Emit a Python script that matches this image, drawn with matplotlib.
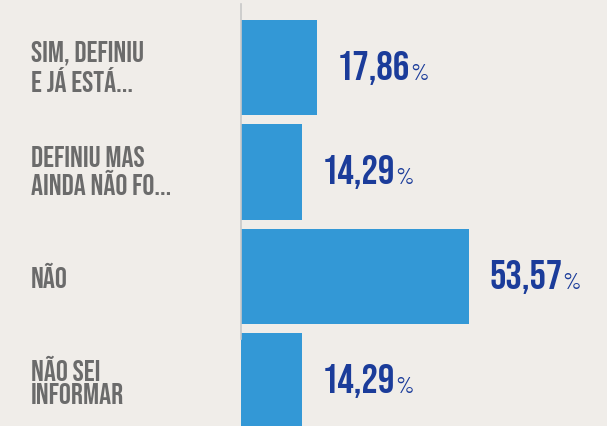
import matplotlib
matplotlib.use("Agg")
import matplotlib.pyplot as plt
from matplotlib import font_manager

# data
labels = ["SIM, DEFINIU\nE JÁ ESTÁ...", "DEFINIU MAS\nAINDA NÃO FO...", "NÃO", "NÃO SEI\nINFORMAR"]
values = [17.86, 14.29, 53.57, 14.29]
value_text = ["17,86", "14,29", "53,57", "14,29"]

names = {f.name for f in font_manager.fontManager.ttflist}
cond = next(n for n in ["Bebas Neue", "Oswald", "Barlow Condensed", "DejaVu Sans"] if n in names)
thin = next(n for n in ["Barlow Condensed", "Oswald", "DejaVu Sans"] if n in names)

bg = "#f0ede9"
bar_color = "#3398d6"
label_color = "#6b6b6b"
value_color = "#1b3c9a"

fig = plt.figure(figsize=(6.07, 4.26), dpi=100, facecolor=bg)
ax = fig.add_axes([0, 0, 1, 1], facecolor=bg)

ypos = list(range(len(values)))
ax.barh(ypos, values, height=0.91, color=bar_color, left=0)

# scale: x=0 at px 240.5, 4.27 px per %
ax.set_xlim(-240.5 / 4.27, (607 - 240.5) / 4.27)
ax.set_ylim((426 - 67.5) / 104.5, -67.5 / 104.5)
ax.axis("off")

# vertical axis line (px 4 to 339)
ax.plot([0, 0], [-63.5 / 104.5, (339 - 67.5) / 104.5], color="#c8c8c8", lw=1.2, zorder=3)

for y, lab in zip(ypos, labels):
    ax.text(-209.5 / 4.27, y - 0.01, lab, ha="left", va="center", fontsize=21.5,
            family=cond, color=label_color, linespacing=1.1)

for y, v, t in zip(ypos, values, value_text):
    num = ax.text(v + 4.7, y + 0.115, t, ha="left", va="baseline", fontsize=29.5,
                  family=cond, color=value_color)
    ax.annotate("%", xy=(1, y + 0.115), xycoords=(num, "data"), xytext=(0, 0),
                textcoords="offset points", ha="left", va="baseline",
                fontsize=17, family=thin, color=value_color)

fig.savefig("out.png", dpi=100, facecolor=bg)
